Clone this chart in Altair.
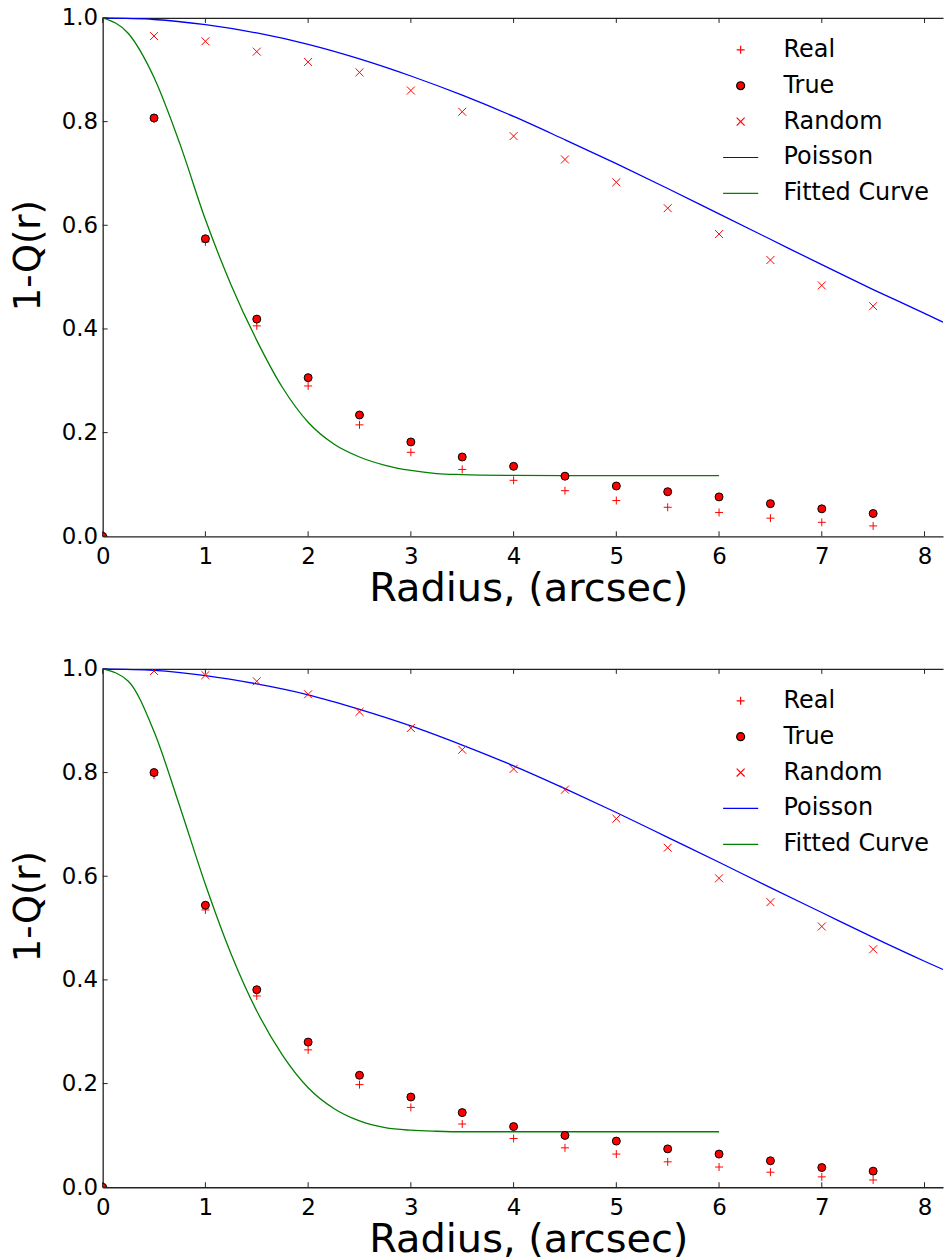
import altair as alt
import pandas as pd

# ---------------- data ----------------
series_names = ["Real", "True", "Random", "Poisson", "Fitted Curve"]

x_points = [0, 0.5, 1, 1.5, 2, 2.5, 3, 3.5, 4, 4.5, 5, 5.5, 6, 6.5, 7, 7.5]
x_random = [0.5, 1, 1.5, 2, 2.5, 3, 3.5, 4, 4.5, 5, 5.5, 6, 6.5, 7, 7.5]
x_poisson = [0, 0.5, 1, 1.5, 2, 2.5, 3, 3.5, 4, 4.5, 5, 5.5, 6, 6.5, 7, 7.5, 8, 8.18]
x_fit = [0, 0.25, 0.5, 0.75, 1, 1.25, 1.5, 1.75, 2, 2.25, 2.5, 2.75, 3, 3.25, 3.5,
         4, 4.5, 5, 5.5, 6]

top_real = [0, 0.805, 0.568, 0.406, 0.290, 0.215, 0.162, 0.129, 0.108, 0.088,
            0.069, 0.056, 0.046, 0.035, 0.027, 0.020]
top_true = [0, 0.807, 0.574, 0.419, 0.306, 0.234, 0.182, 0.153, 0.135, 0.116,
            0.097, 0.086, 0.076, 0.063, 0.053, 0.044]
top_random = [0.965, 0.955, 0.935, 0.915, 0.895, 0.860, 0.819, 0.772, 0.727,
              0.683, 0.633, 0.583, 0.533, 0.484, 0.444]
top_poisson = [1.0, 0.997, 0.987, 0.971, 0.949, 0.921, 0.888, 0.851, 0.810, 0.765,
               0.719, 0.671, 0.622, 0.573, 0.524, 0.476, 0.430, 0.413]
top_fit = [1.0, 0.970, 0.885, 0.758, 0.611, 0.485, 0.378, 0.287, 0.220, 0.178,
           0.153, 0.137, 0.127, 0.121, 0.119, 0.1175, 0.117, 0.117, 0.117, 0.117]

bot_real = [0, 0.795, 0.535, 0.369, 0.265, 0.198, 0.154, 0.122, 0.094, 0.076,
            0.064, 0.049, 0.039, 0.029, 0.020, 0.014]
bot_true = [0, 0.800, 0.544, 0.381, 0.280, 0.216, 0.174, 0.144, 0.117, 0.100,
            0.089, 0.074, 0.064, 0.051, 0.038, 0.031]
bot_random = [0.996, 0.988, 0.976, 0.951, 0.917, 0.886, 0.844, 0.807, 0.767,
              0.711, 0.655, 0.596, 0.550, 0.503, 0.459]
bot_poisson = [1.0, 0.997, 0.987, 0.971, 0.950, 0.922, 0.890, 0.853, 0.813, 0.769,
               0.723, 0.675, 0.627, 0.578, 0.530, 0.482, 0.436, 0.420]
bot_fit = [1.0, 0.976, 0.879, 0.735, 0.584, 0.450, 0.340, 0.255, 0.192, 0.152,
           0.128, 0.115, 0.110, 0.108, 0.107, 0.107, 0.107, 0.107, 0.107, 0.107]

x_tick_values = [0, 1, 2, 3, 4, 5, 6, 7, 8]
y_tick_values = [0.0, 0.2, 0.4, 0.6, 0.8, 1.0]

# ---------------- styling ----------------
W, H = 843, 520
FONT = "DejaVu Sans"
AXIS_COLOR = "#222222"

shape_range = ["M-1,0L1,0M0,-1L0,1", "circle", "M-1,-1L1,1M-1,1L1,-1",
               "M-4.4,0L4.4,0", "M-4.4,0L4.4,0"]
stroke_range = ["#ff0000", "#000000", "#ff0000", "#0000ff", "#008000"]
fill_range = ["transparent", "#ff0000", "transparent", "transparent", "transparent"]

legend = alt.Legend(
    title=None, orient="none", legendX=628, legendY=20, padding=0,
    labelFont=FONT, labelFontSize=24, labelColor="black", labelOffset=31,
    rowPadding=12, symbolSize=64, symbolStrokeWidth=1.2,
)

xscale = alt.Scale(domain=[0, 8.18], nice=False, zero=False)
yscale = alt.Scale(domain=[0, 1], nice=False)

x_axis_bottom = alt.Axis(
    values=x_tick_values, format="d", ticks=False, tickSize=0, grid=False,
    domain=True, domainColor=AXIS_COLOR, domainWidth=1.3,
    labelFont=FONT, labelFontSize=23, labelColor="black", labelPadding=9,
    labelFlush=False, labelOverlap=False,
    title="Radius, (arcsec)", titleFont=FONT, titleFontSize=40,
    titleFontWeight="normal", titleColor="black",
    titleX=427, titleY=64, titleBaseline="alphabetic", titleAlign="center",
)
x_axis_top = alt.Axis(
    orient="top", values=x_tick_values, labels=False, ticks=False, tickSize=0,
    grid=False, domain=True, domainColor=AXIS_COLOR, domainWidth=1.3, title=None,
)
y_axis = alt.Axis(
    values=y_tick_values, format=".1f", ticks=False, tickSize=0, grid=False,
    domain=True, domainColor=AXIS_COLOR, domainWidth=1.3,
    labelFont=FONT, labelFontSize=23, labelColor="black", labelPadding=5,
    labelOverlap=False,
    title="1-Q(r)", titleFont=FONT, titleFontSize=37, titleFontWeight="normal",
    titleColor="black", titleAngle=270, titleX=-63, titleY=238,
    titleBaseline="alphabetic", titleAlign="center",
)


def series_enc(channel, rng):
    return channel("series:N", scale=alt.Scale(domain=series_names, range=rng),
                   legend=legend)


def panel(real, true, random, poisson, fit):
    pts = pd.concat([
        pd.DataFrame({"series": "Real", "r": x_points, "v": real}),
        pd.DataFrame({"series": "True", "r": x_points, "v": true}),
        pd.DataFrame({"series": "Random", "r": x_random, "v": random}),
    ])
    lns = pd.concat([
        pd.DataFrame({"series": "Poisson", "r": x_poisson, "v": poisson}),
        pd.DataFrame({"series": "Fitted Curve", "r": x_fit, "v": fit}),
    ])
    xt = pd.DataFrame({"t": x_tick_values})
    yt = pd.DataFrame({"t": y_tick_values})

    lines = alt.Chart(lns).mark_line(strokeWidth=1.3, interpolate="monotone").encode(
        x=alt.X("r:Q", scale=xscale, axis=x_axis_bottom),
        y=alt.Y("v:Q", scale=yscale, axis=y_axis),
        stroke=series_enc(alt.Stroke, stroke_range),
        detail="series:N",
    )
    points = alt.Chart(pts).mark_point(opacity=1, strokeWidth=1, size=64, clip=True).encode(
        x=alt.X("r:Q", scale=xscale, axis=None),
        y=alt.Y("v:Q", scale=yscale, axis=y_axis),
        stroke=series_enc(alt.Stroke, stroke_range),
        fill=series_enc(alt.Fill, fill_range),
        shape=series_enc(alt.Shape, shape_range),
    )
    bticks = alt.Chart(xt).mark_rule(color=AXIS_COLOR, strokeWidth=1).encode(
        x=alt.X("t:Q", scale=xscale, axis=None),
        y=alt.value(H), y2=alt.value(H - 5),
    )
    tticks = alt.Chart(xt).mark_rule(color=AXIS_COLOR, strokeWidth=1).encode(
        x=alt.X("t:Q", scale=xscale, axis=x_axis_top),
        y=alt.value(0), y2=alt.value(5),
    )
    lticks = alt.Chart(yt).mark_rule(color=AXIS_COLOR, strokeWidth=1).encode(
        y=alt.Y("t:Q", scale=yscale, axis=y_axis),
        x=alt.value(0), x2=alt.value(5),
    )
    return alt.layer(lines, points, bticks, tticks, lticks).resolve_axis(
        x="independent"
    ).properties(width=W, height=H)


top = panel(top_real, top_true, top_random, top_poisson, top_fit)
bottom = panel(bot_real, bot_true, bot_random, bot_poisson, bot_fit)

chart = alt.vconcat(top, bottom, spacing=50).resolve_scale(
    stroke="independent", fill="independent", shape="independent"
).properties(
    padding={"left": 10, "top": 5, "right": 0, "bottom": 0},
    background="white",
).configure_view(stroke=None)

chart.save("out.html", embed_options={"renderer": "svg", "actions": False})
